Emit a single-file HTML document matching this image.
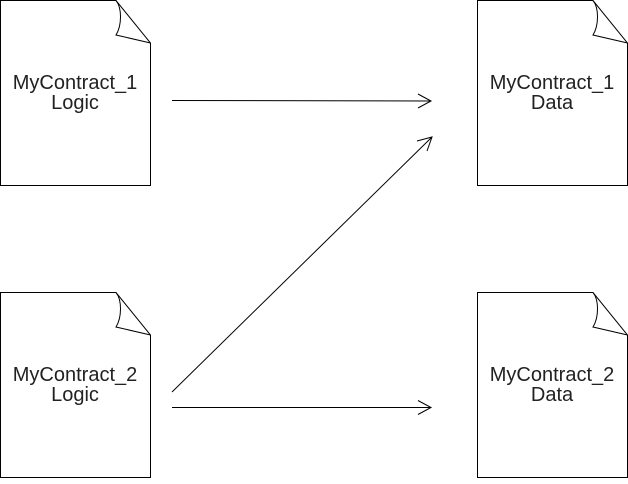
<!DOCTYPE html>
<html><head><style>body{margin:0;background:#fff}</style></head><body>
<svg width="628" height="479" viewBox="0 0 628 479" xmlns="http://www.w3.org/2000/svg">
<defs>
<g id="doc" fill="#fff" stroke="#000" stroke-width="1">
<path d="M0.5 0.5 H116 L150.5 43 V185.5 H0.5 Z"/>
<path d="M116 0.5 C122 8 122 25 116 35 L150.5 43" fill="none"/>
</g>
</defs>
<use href="#doc" x="0" y="0"/>
<use href="#doc" x="477" y="0"/>
<use href="#doc" x="0" y="292"/>
<use href="#doc" x="477" y="292"/>
<g font-family="Liberation Sans, sans-serif" font-size="20" fill="#222" text-anchor="middle">
<text x="75" y="89">MyContract_1</text><text x="75" y="109">Logic</text>
<text x="552" y="89">MyContract_1</text><text x="552" y="109">Data</text>
<text x="75" y="381">MyContract_2</text><text x="75" y="401">Logic</text>
<text x="552" y="381">MyContract_2</text><text x="552" y="401">Data</text>
</g>
<g stroke="#000" stroke-width="1" fill="none">
<path d="M172 100.5 L431 101"/><path d="M418 94 L431 101 L418 108"/>
<path d="M172 392 L432 137"/><path d="M417 141 L432 137 L427 151"/>
<path d="M172 407.5 L431 407.5"/><path d="M418 400.5 L431 407.5 L418 414.5"/>
</g>
</svg>
</body></html>
